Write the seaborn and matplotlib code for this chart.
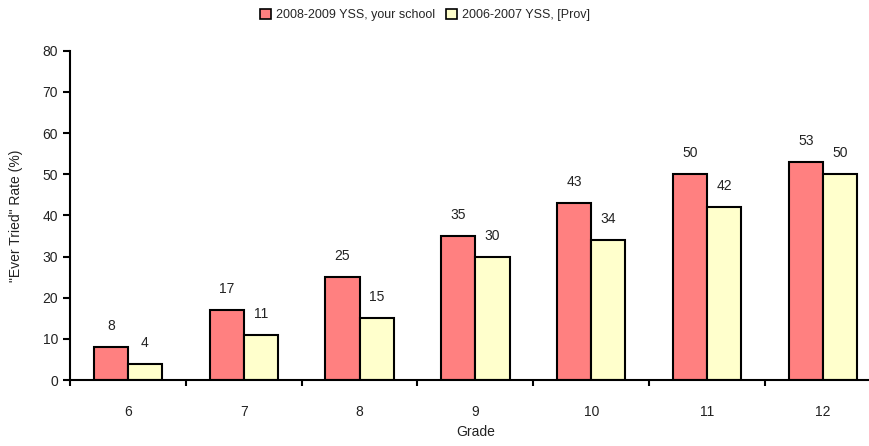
import matplotlib
matplotlib.use("Agg")
import matplotlib.pyplot as plt
import seaborn as sns
import pandas as pd
from matplotlib.patches import Patch

grades = ["6", "7", "8", "9", "10", "11", "12"]
school = [8, 17, 25, 35, 43, 50, 53]
prov = [4, 11, 15, 30, 34, 42, 50]
series_names = ["2008-2009 YSS, your school", "2006-2007 YSS, [Prov]"]
colors = ["#FF8080", "#FFFFCC"]

df = pd.DataFrame({
    "Grade": grades * 2,
    "Rate": school + prov,
    "Series": [series_names[0]] * len(grades) + [series_names[1]] * len(grades),
})

sns.set_style("white")
plt.rcParams["font.family"] = ["Liberation Sans", "DejaVu Sans"]
plt.rcParams["font.size"] = 10

W, H = 870, 446
fig = plt.figure(figsize=(W / 100, H / 100), dpi=100)
left, right, bottom, top = 70, 880.8, 380, 50.7
ax = fig.add_axes([left / W, (H - bottom) / H, (right - left) / W, (bottom - top) / H])

sns.barplot(data=df, x="Grade", y="Rate", hue="Series", order=grades,
            hue_order=series_names, palette=colors, width=0.59, gap=0,
            edgecolor="black", linewidth=1.5, ax=ax, legend=False, saturation=1)

for cont in ax.containers:
    for bar in cont:
        h = bar.get_height()
        ax.annotate(f"{h:.0f}", (bar.get_x() + bar.get_width() / 2, h),
                    xytext=(0, 15), textcoords="offset points",
                    ha="center", va="center", fontsize=10, color="#222222")

ax.set_xlim(-0.5, 6.5)
ax.set_ylim(0, 80)
ax.set_yticks(range(0, 81, 10))
ax.set_xticks(range(len(grades)))
ax.set_xticklabels(grades)
ax.set_xticks([i - 0.5 for i in range(len(grades) + 1)], minor=True)
ax.tick_params(axis="x", which="major", length=0, pad=18, labelsize=10, colors="#222222")
ax.tick_params(axis="x", which="minor", length=4, width=1.5, direction="out", color="black", bottom=True)
ax.tick_params(axis="y", length=5, width=1.5, direction="out", color="black", left=True, labelsize=10, labelcolor="#222222")
for s in ["top", "right"]:
    ax.spines[s].set_visible(False)
for s in ["left", "bottom"]:
    ax.spines[s].set_linewidth(1.5)
    ax.spines[s].set_color("black")

ax.set_xlabel("Grade", fontsize=10, labelpad=4, color="#222222")
ax.set_ylabel("\"Ever Tried\" Rate (%)", fontsize=10, labelpad=14, color="#222222")

handles = [Patch(facecolor=c, edgecolor="black", linewidth=1.2, label=n) for c, n in zip(colors, series_names)]
fig.legend(handles=handles, loc="center", bbox_to_anchor=(425 / W, 1 - 15 / H), ncol=2,
           frameon=False, fontsize=9, handlelength=0.9, handleheight=0.9,
           handletextpad=0.4, columnspacing=0.8)

fig.savefig("out.png", dpi=100)
